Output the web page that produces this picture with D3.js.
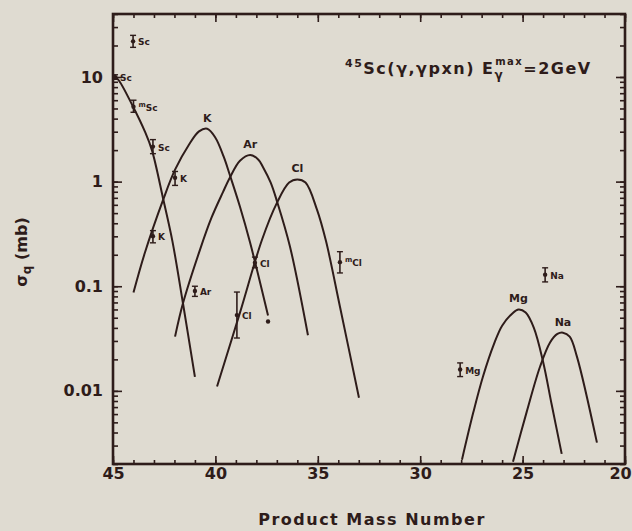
<!DOCTYPE html>
<html lang="en">
<head>
<meta charset="utf-8">
<title>Sc photospallation yields</title>
<script src="https://cdn.jsdelivr.net/npm/d3@7"></script>
<style>
body { margin: 0; background: #dfdbd1; }
svg { display: block; font-family: "DejaVu Sans", sans-serif; font-weight: bold; }
.axis path { display: none; }
.axis line { stroke: #2e1c1a; stroke-width: 1.6; }
.axis text { fill: #2e1c1a; font-size: 16px; font-weight: bold; font-family: "DejaVu Sans", sans-serif; }
.curve { fill: none; stroke: #2e1c1a; stroke-width: 2; }
.lbl { fill: #2e1c1a; }
</style>
</head>
<body>
<script>
// width and height
var w = 632, h = 531;

// fitted yield curves (product mass number A, cross section in mb)
var scA = [44.95, 44.76, 44.02, 43.44, 43.1, 42.54, 42.1, 41.58, 41.0];
var scSig = [10, 9.5, 5.2, 3.0, 2.0, 0.67, 0.27, 0.068, 0.0136];

var kA = [44.0, 43.44, 42.54, 41.97, 41.3, 40.8, 40.4, 40.0, 39.6, 39.29, 38.8, 38.31, 37.43];
var kSig = [0.087, 0.21, 0.68, 1.3, 2.24, 3.02, 3.2, 2.63, 1.74, 1.15, 0.575, 0.263, 0.0525];

var arA = [41.97, 41.58, 40.75, 40.2, 39.63, 39.29, 38.8, 38.3, 37.9, 37.68, 37.3, 36.99, 36.36, 35.48];
var arSig = [0.033, 0.069, 0.224, 0.447, 0.794, 1.096, 1.585, 1.8, 1.62, 1.38, 0.977, 0.646, 0.24, 0.034];

var clA = [39.92, 38.8, 37.72, 36.99, 36.4, 36.0, 35.6, 35.04, 34.6, 33.92, 32.99];
var clSig = [0.011, 0.056, 0.28, 0.63, 0.98, 1.05, 0.98, 0.54, 0.27, 0.064, 0.0086];

var mgA = [27.96, 27.4, 26.93, 26.4, 26.0, 25.5, 25.2, 24.85, 24.45, 24.0, 23.58, 23.09];
var mgSig = [0.0022, 0.0063, 0.0138, 0.028, 0.042, 0.055, 0.06, 0.056, 0.04, 0.019, 0.0074, 0.0025];

var naA = [25.47, 24.8, 24.15, 23.66, 23.3, 23.03, 22.7, 22.34, 21.37];
var naSig = [0.0021, 0.0063, 0.017, 0.029, 0.035, 0.036, 0.033, 0.021, 0.0032];

var curveNames = ["Sc", "K", "Ar", "Cl", "Mg", "Na"];

// measured points with error bars
var ptName = ["Sc", "Sc", "Sc", "Sc", "K", "K", "Ar", "Cl", "Cl", "", "Cl", "Na", "Mg"];
var ptMeta = [false, false, true, false, false, false, false, false, false, false, true, false, false];
var ptA = [44.02, 44.9, 44.0, 43.05, 41.97, 43.05, 41.0, 38.95, 38.07, 37.43, 33.92, 23.9, 28.05];
var ptSig = [21.9, 10, 5.2, 2.16, 1.09, 0.30, 0.09, 0.053, 0.168, 0.046, 0.17, 0.129, 0.016];
var ptLo = [19.2, 9.5, 4.6, 1.85, 0.92, 0.26, 0.08, 0.032, 0.15, 0.046, 0.134, 0.11, 0.0137];
var ptHi = [25, 10.5, 6.0, 2.52, 1.25, 0.34, 0.10, 0.088, 0.19, 0.046, 0.214, 0.15, 0.0185];

// axis ticks
var xMajor = [45, 40, 35, 30, 25, 20];
var yMajor = [0.01, 0.1, 1, 10];
var yLabels = ["0.01", "0.1", "1", "10"];

var mLeft = 113, mRight = 625, mTop = 14, mBottom = 464;

var svg = d3.select("body").append("svg")
	.attr("width", w)
	.attr("height", h);

var x = d3.scaleLinear().domain([45, 20]).range([mLeft, mRight]);
var y = d3.scaleLog().domain([0.002, 40]).range([mBottom, mTop]);

var ink = "#2e1c1a";

// minor + major ticks, all four sides, pointing inward
var xMinor = d3.range(20, 46, 1);
var yMinor = y.ticks();

svg.append("g").attr("class", "axis").attr("transform", "translate(0," + mBottom + ")")
	.call(d3.axisBottom(x).tickValues(xMinor).tickSize(-4).tickFormat(""));
var xAx = svg.append("g").attr("class", "axis").attr("transform", "translate(0," + mBottom + ")")
	.call(d3.axisBottom(x).tickValues(xMajor).tickSize(-8).tickPadding(4).tickFormat(d3.format("d")));
// last label sits against the window edge
xAx.selectAll(".tick text").filter(function(d) { return d == 20; }).attr("dx", -5);
svg.append("g").attr("class", "axis").attr("transform", "translate(0," + mTop + ")")
	.call(d3.axisTop(x).tickValues(xMinor).tickSize(-4).tickFormat(""));
svg.append("g").attr("class", "axis").attr("transform", "translate(0," + mTop + ")")
	.call(d3.axisTop(x).tickValues(xMajor).tickSize(-8).tickFormat(""));

svg.append("g").attr("class", "axis").attr("transform", "translate(" + mLeft + ",0)")
	.call(d3.axisLeft(y).tickValues(yMinor).tickSize(-5).tickFormat(""));
svg.append("g").attr("class", "axis").attr("transform", "translate(" + mLeft + ",0)")
	.call(d3.axisLeft(y).tickValues(yMajor).tickSize(-9).tickPadding(10)
		.tickFormat(function(d, i) { return yLabels[i]; }));
svg.append("g").attr("class", "axis").attr("transform", "translate(" + mRight + ",0)")
	.call(d3.axisRight(y).tickValues(yMinor).tickSize(-5).tickFormat(""));
svg.append("g").attr("class", "axis").attr("transform", "translate(" + mRight + ",0)")
	.call(d3.axisRight(y).tickValues(yMajor).tickSize(-9).tickFormat(""));

// frame
svg.append("rect")
	.attr("x", mLeft).attr("y", mTop)
	.attr("width", mRight - mLeft).attr("height", mBottom - mTop)
	.attr("fill", "none").attr("stroke", ink).attr("stroke-width", 2.6);

// curves
var line = d3.line()
	.x(function(d) { return x(d[0]); })
	.y(function(d) { return y(d[1]); })
	.curve(d3.curveCatmullRom.alpha(0.5));

var curves = [[scA, scSig], [kA, kSig], [arA, arSig], [clA, clSig], [mgA, mgSig], [naA, naSig]];
curves.forEach(function(c, i) {
	var pts = c[0].map(function(a, j) { return [a, c[1][j]]; });
	svg.append("path").attr("class", "curve").attr("d", line(pts));
	if (i > 0) {
		// label above the peak
		var k = d3.maxIndex(c[1]);
		svg.append("text").attr("class", "lbl")
			.attr("x", x(c[0][k])).attr("y", y(c[1][k]) - 7)
			.attr("text-anchor", "middle")
			.style("font-size", "11px")
			.text(curveNames[i]);
	}
});

// data points
ptA.forEach(function(a, i) {
	var cx = x(a);
	var g = svg.append("g");
	if (ptHi[i] > ptLo[i]) {
		g.append("line").attr("x1", cx).attr("x2", cx)
			.attr("y1", y(ptLo[i])).attr("y2", y(ptHi[i]))
			.attr("stroke", ink).attr("stroke-width", 1.6);
		[ptLo[i], ptHi[i]].forEach(function(v) {
			g.append("line").attr("x1", cx - 3).attr("x2", cx + 3)
				.attr("y1", y(v)).attr("y2", y(v))
				.attr("stroke", ink).attr("stroke-width", 1.4);
		});
	}
	g.append("circle").attr("cx", cx).attr("cy", y(ptSig[i])).attr("r", 2.2).attr("fill", ink);
	if (ptName[i]) {
		var t = g.append("text").attr("class", "lbl")
			.attr("x", cx + 5).attr("y", y(ptSig[i]) + 4)
			.style("font-size", "9px");
		if (ptMeta[i]) {
			t.append("tspan").attr("dy", -4).style("font-size", "7px").text("m");
			t.append("tspan").attr("dy", 4).text(ptName[i]);
		} else {
			t.text(ptName[i]);
		}
	}
});

// title
var title = svg.append("text").attr("class", "lbl")
	.attr("x", 345).attr("y", 74)
	.style("font-size", "16px")
	.style("letter-spacing", "1.5px");
title.append("tspan").attr("dy", -7).style("font-size", "11px").text("45");
title.append("tspan").attr("dy", 7).text("Sc(\u03b3,\u03b3pxn)  E");
title.append("tspan").attr("dy", 5).style("font-size", "12px").text("\u03b3");
title.append("tspan").attr("dx", -9).attr("dy", -14).style("font-size", "10px").text("max");
title.append("tspan").attr("dy", 9).text("=2GeV");

// axis titles
svg.append("text").attr("class", "lbl")
	.attr("x", 372).attr("y", 525)
	.attr("text-anchor", "middle")
	.style("font-size", "16px")
	.style("letter-spacing", "1.5px")
	.text("Product Mass Number");

var yt = svg.append("text").attr("class", "lbl")
	.attr("transform", "translate(27,252) rotate(-90)")
	.attr("text-anchor", "middle")
	.style("font-size", "16px");
yt.append("tspan").text("\u03c3");
yt.append("tspan").attr("dy", 4).style("font-size", "12px").text("q");
yt.append("tspan").attr("dy", -4).text(" (mb)");
</script>
</body>
</html>
